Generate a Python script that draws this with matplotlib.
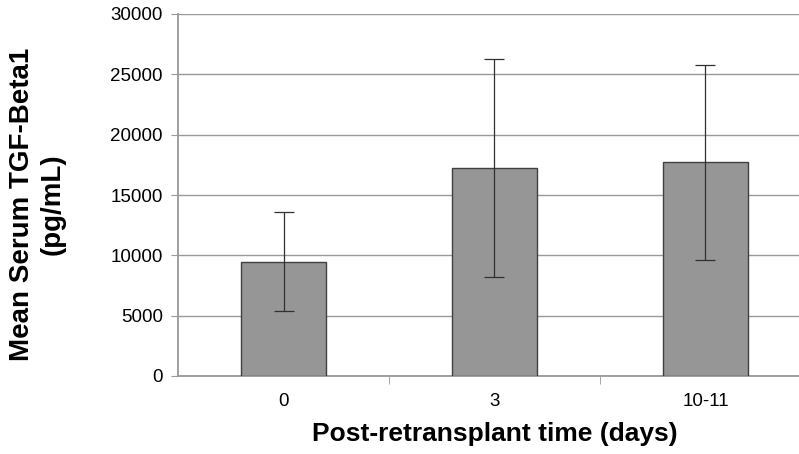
import numpy as np
import matplotlib.pyplot as plt

plt.rcParams['font.family'] = ['Liberation Sans', 'DejaVu Sans']

categories = ['0', '3', '10-11']
means = [9450, 17230, 17700]
errors = [4100, 9000, 8050]

fig = plt.figure(figsize=(7.99, 4.54), dpi=100)
ax = fig.add_axes([178/799, 1-376/454, 633/799, 362/454])

x = np.arange(len(categories))
ax.bar(x, means, width=0.40, color='#969696', edgecolor='#404040', linewidth=1.0, zorder=3)
ax.errorbar(x, means, yerr=errors, fmt='none', ecolor='#303030', elinewidth=0.9,
            capsize=7, capthick=0.9, zorder=4)

ax.set_xlim(-0.5, 2.5)
ax.set_ylim(0, 30000)
ax.set_yticks(np.arange(0, 30001, 5000))
ax.yaxis.grid(True, color='#999999', linewidth=1.0, zorder=0)

ax.set_xticks(x)
ax.set_xticklabels(categories, fontsize=13.5)
ax.tick_params(axis='x', length=0, pad=12)
ax.set_xticks([0.5, 1.5], minor=True)
ax.tick_params(axis='x', which='minor', length=6, direction='out', color='#999999')
ax.tick_params(axis='y', labelsize=13.5, length=5, color='#999999', direction='out', pad=6)

for s in ['top', 'right']:
    ax.spines[s].set_visible(False)
for s in ['left', 'bottom']:
    ax.spines[s].set_color('#999999')
    ax.spines[s].set_linewidth(1.3)

ax.set_xlabel('Post-retransplant time (days)', fontsize=19, fontweight='bold', labelpad=9)
fig.text(22/799, 1-204/454, 'Mean Serum TGF-Beta1', rotation=90, fontsize=20,
         fontweight='bold', ha='center', va='center')
fig.text(53/799, 1-204/454, '(pg/mL)', rotation=90, fontsize=20,
         fontweight='bold', ha='center', va='center')

fig.savefig('out.png', dpi=100)
